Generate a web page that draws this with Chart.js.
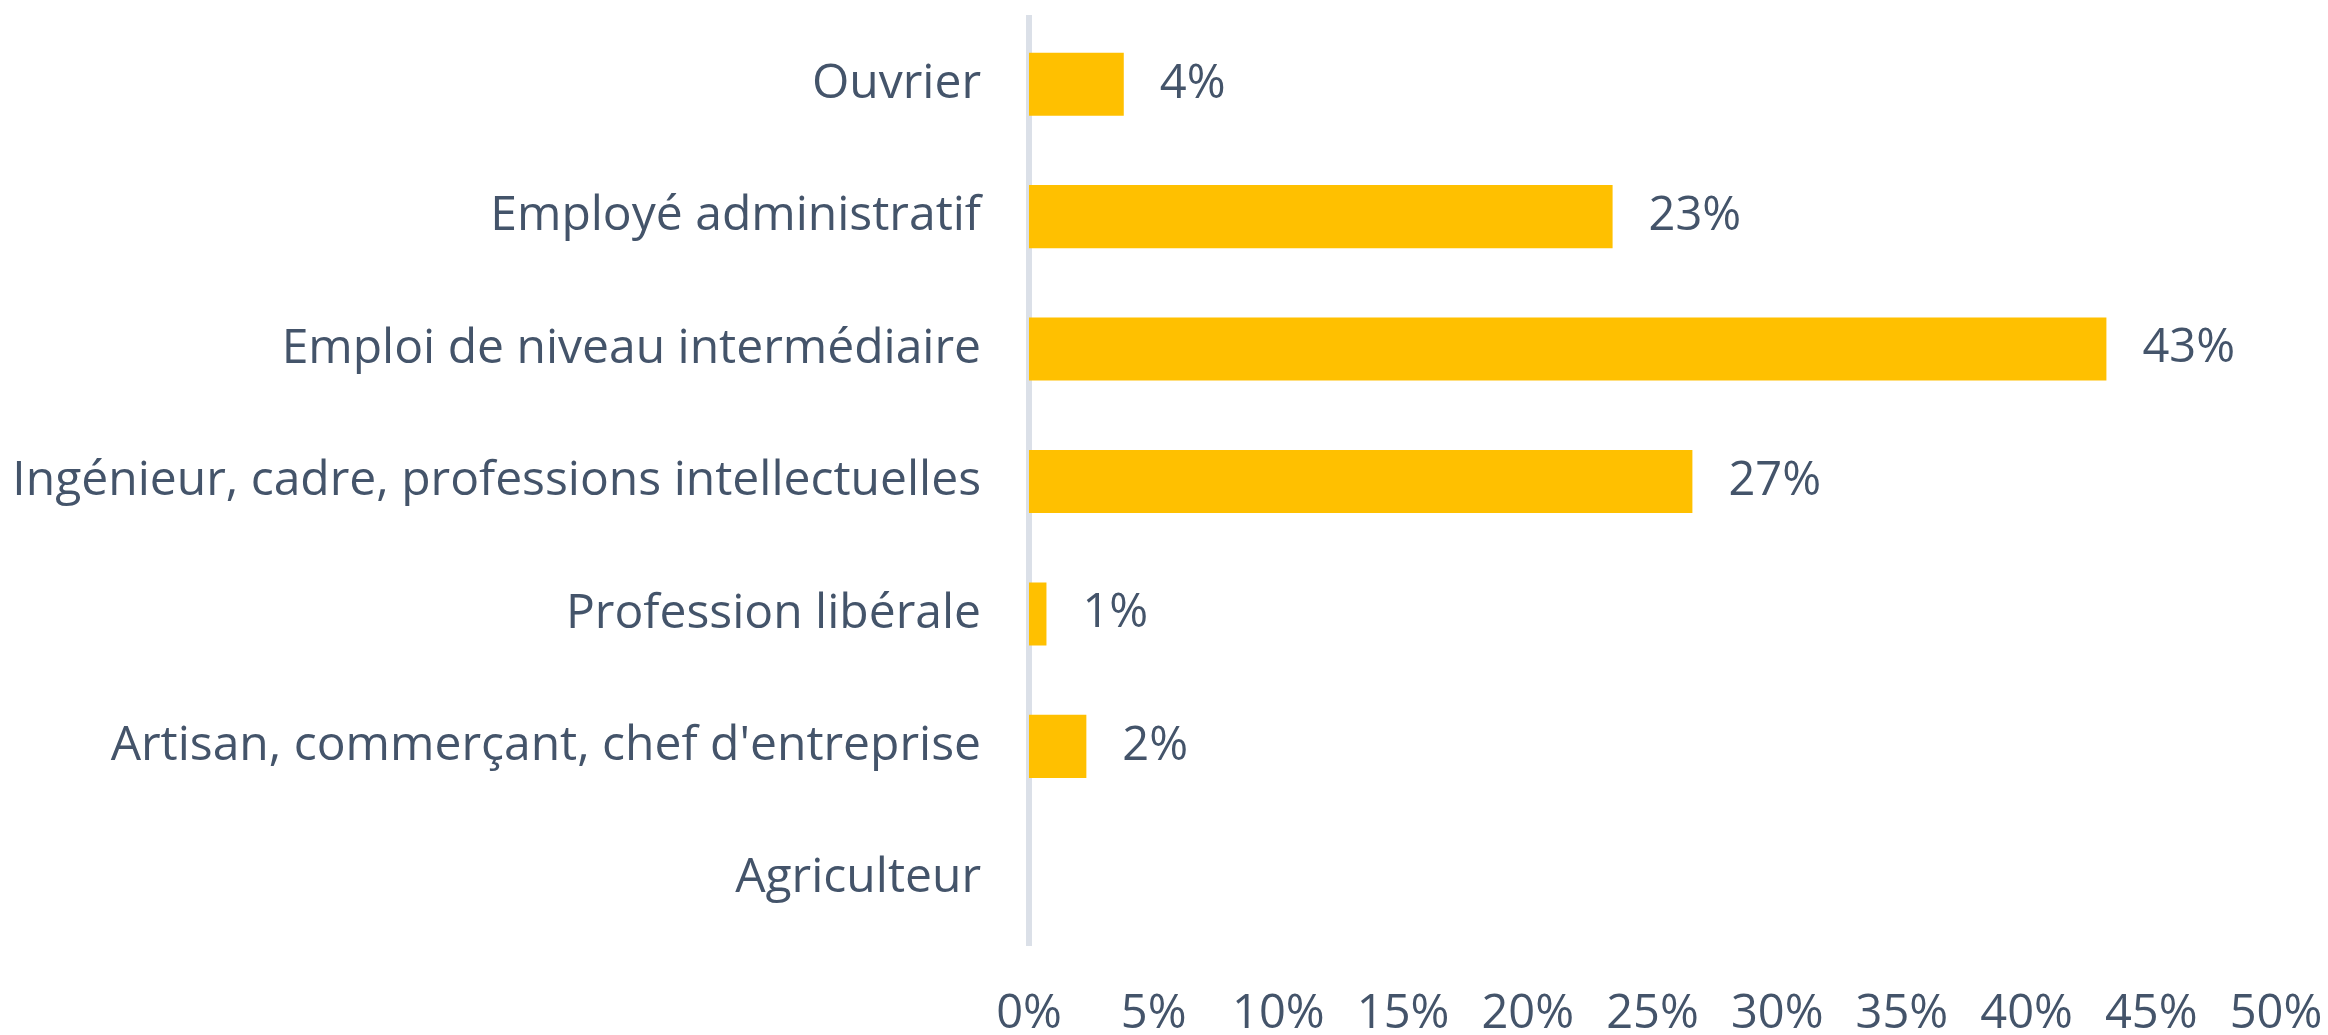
<!DOCTYPE html>
<html>
<head>
<meta charset="utf-8">
<script src="https://cdn.jsdelivr.net/npm/chart.js@4.4.0/dist/chart.umd.min.js"></script>
<style>
    html, body { margin: 0; padding: 0; background: #fff; }
    #wrap { width: 2328px; height: 1035px; }
</style>
</head>
<body>
<div id="wrap"><canvas id="chartCanvas" width="2328" height="1035"></canvas></div>
<script>
// catégories socio-professionnelles
const categories = [
    "Ouvrier",
    "Employé administratif",
    "Emploi de niveau intermédiaire",
    "Ingénieur, cadre, professions intellectuelles",
    "Profession libérale",
    "Artisan, commerçant, chef d'entreprise",
    "Agriculteur"
];

// part en %
const shares = [3.8, 23.4, 43.2, 26.6, 0.7, 2.3, 0];

const xTicks = [0, 5, 10, 15, 20, 25, 30, 35, 40, 45, 50];

const textColor = "#44546a";
const fontFamily = "'Open Sans', Lato, sans-serif";
const fontSize = 48;

// étiquettes de valeur au bout des barres
const valueLabels = {
    id: "valueLabels",
    afterDatasetsDraw(chart) {
        const ctx = chart.ctx;
        const meta = chart.getDatasetMeta(0);
        ctx.save();
        ctx.font = "47px " + fontFamily;
        ctx.fillStyle = textColor;
        ctx.textAlign = "left";
        ctx.textBaseline = "middle";
        meta.data.forEach((bar, i) => {
            const v = shares[i];
            if (!v) return;
            ctx.fillText(Math.round(v) + "%", bar.x + 36, bar.y);
        });
        ctx.restore();
    }
};

const ctx = document.getElementById("chartCanvas").getContext("2d");

new Chart(ctx, {
    type: "bar",
    data: {
        labels: categories,
        datasets: [{
            data: shares,
            backgroundColor: "#ffc000",
            borderWidth: 0,
            barPercentage: 0.476,
            categoryPercentage: 1
        }]
    },
    options: {
        indexAxis: "y",
        responsive: false,
        animation: false,
        layout: {
            padding: { top: 18, right: 52, left: 0, bottom: 0 }
        },
        plugins: {
            legend: { display: false },
            tooltip: { enabled: false }
        },
        scales: {
            x: {
                min: 0,
                max: 50,
                afterBuildTicks(scale) {
                    scale.ticks = xTicks.map(v => ({ value: v }));
                },
                afterFit(scale) {
                    scale.height = 90;
                    scale.paddingLeft = 0;
                    scale.paddingRight = 0;
                },
                grid: { display: false, drawTicks: false },
                border: { display: false },
                ticks: {
                    padding: 41,
                    color: textColor,
                    font: { family: fontFamily, size: 47 },
                    callback: v => v + "%",
                    maxRotation: 0,
                    autoSkip: false
                }
            },
            y: {
                afterFit(scale) {
                    scale.width = 1029;
                    scale.paddingTop = 0;
                    scale.paddingBottom = 0;
                },
                grid: { display: false, drawTicks: false },
                border: { display: true, color: "#dbe0e8", width: 6 },
                ticks: {
                    padding: 48,
                    color: textColor,
                    font: { family: fontFamily, size: fontSize },
                    autoSkip: false
                }
            }
        }
    },
    plugins: [valueLabels]
});
</script>
</body>
</html>
